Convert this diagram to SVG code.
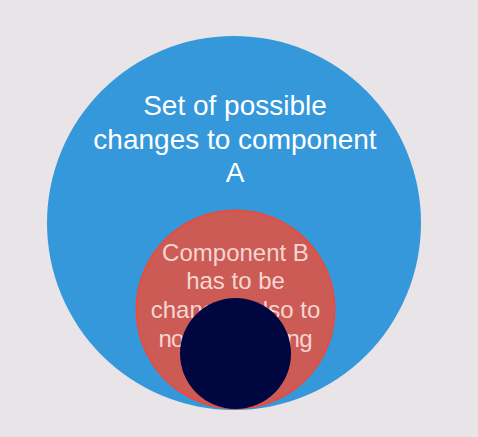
<svg xmlns="http://www.w3.org/2000/svg" width="478" height="437" viewBox="0 0 478 437">
<style>
.t{font-family:"Liberation Sans",Arial,Helvetica,sans-serif;text-anchor:middle}
.a{font-size:28px;fill:#FFFFFF}
.b{font-size:24px;fill:#F5D6D3}
</style>
<rect width="478" height="437" fill="#E8E4E8"/>
<g id="setA">
<circle cx="234" cy="223" r="187" fill="#3498DB"/>
<text class="t a" x="235" y="115">Set of possible</text>
<text class="t a" x="235" y="148.5">changes to component</text>
<text class="t a" x="235" y="182">A</text>
</g>
<g id="componentB">
<circle cx="235.5" cy="309.5" r="99" fill="#CD5B55" stroke="#E74C3C" stroke-width="2"/>
<text class="t b" x="235.5" y="260.5">Component B</text>
<text class="t b" x="235.5" y="289.3">has to be</text>
<text class="t b" x="235.5" y="318">changed also to</text>
<text class="t b" x="235.5" y="347" textLength="154" lengthAdjust="spacing">not be breaking</text>
</g>
<g id="inner">
<circle cx="235.5" cy="353.5" r="55.5" fill="#000640"/>
</g>
<g id="connectors"/>
</svg>
